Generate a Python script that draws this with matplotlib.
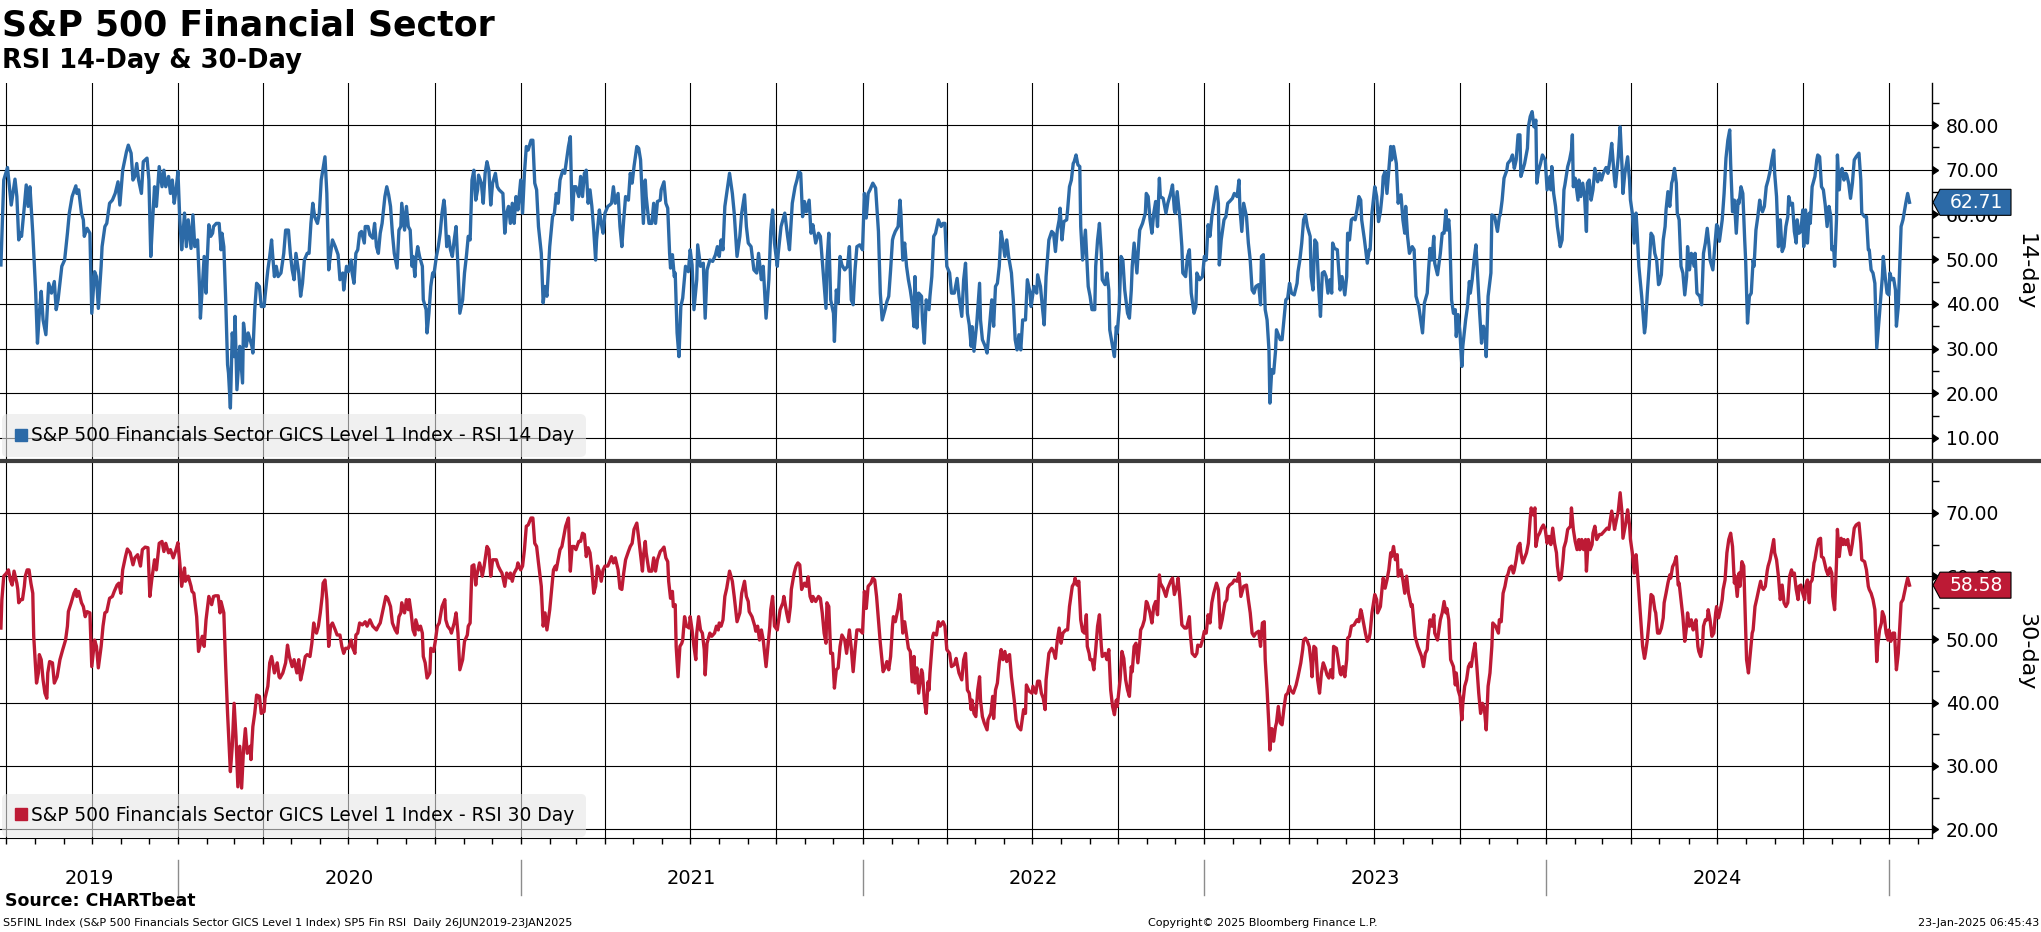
import pandas as pd
import numpy as np
import matplotlib
matplotlib.use('Agg')
import matplotlib.pyplot as plt
import matplotlib.dates as mdates
import matplotlib.transforms as mtransforms
from matplotlib.patches import Polygon
from matplotlib.lines import Line2D
from matplotlib.text import Text

plt.rcParams['font.family'] = ['DejaVu Sans']

# data: (days after 25-Jun-2019, RSI value)
start = pd.Timestamp('2019-06-25')
end_days = 2063

rsi14 = [
    (1, 48.7), (4, 67.7), (8, 70.5), (10, 66.2), (12, 62.1), (16, 67.9), (18, 64.0), (20, 54.3), (22, 55.8), (23, 55.1),
    (26, 61.8), (28, 66.6), (30, 61.8), (32, 66.2), (35, 55.8), (38, 43.1), (40, 31.2), (42, 37.9), (44, 42.8), (46, 36.4),
    (49, 33.1), (52, 44.6), (55, 42.4), (58, 45.0), (60, 38.7), (62, 40.9), (66, 48.4), (69, 49.8), (72, 55.8), (74, 60.3),
    (77, 64.0), (81, 66.4), (82, 64.7), (84, 65.5), (87, 60.3), (89, 58.8), (90, 55.1), (93, 56.9), (96, 55.8), (98, 37.9),
    (101, 47.2), (103, 46.1), (105, 39.0), (108, 48.4), (109, 52.8), (112, 57.3), (114, 58.0), (117, 62.5), (120, 63.2), (123, 64.7),
    (126, 67.3), (128, 62.1), (131, 69.9), (135, 74.0), (137, 75.5), (140, 73.7), (142, 67.7), (144, 68.5), (146, 71.4), (148, 67.7),
    (151, 64.7), (153, 71.8), (155, 72.2), (157, 72.6), (159, 67.7), (161, 50.6), (163, 58.8), (165, 66.2), (167, 61.8), (170, 70.7),
    (173, 66.2), (175, 69.9), (177, 66.2), (180, 68.5), (182, 64.7), (184, 67.7), (186, 62.5), (188, 65.5), (190, 69.6), (192, 58.8),
    (194, 52.1), (196, 57.3), (197, 60.3), (199, 52.8), (201, 58.8), (204, 52.4), (206, 59.9), (208, 52.8), (211, 54.3), (213, 43.9),
    (214, 36.8), (216, 43.9), (218, 50.6), (220, 42.4), (221, 48.4), (223, 57.7), (225, 55.1), (227, 55.8), (228, 57.3), (231, 58.0),
    (234, 58.0), (236, 52.1), (237, 55.8), (239, 52.8), (241, 40.9), (243, 26.4), (244, 24.5), (246, 16.7), (248, 33.5), (250, 28.2),
    (251, 37.2), (253, 20.8), (256, 30.5), (259, 22.3), (260, 35.7), (263, 30.5), (265, 33.5), (267, 32.0), (269, 30.5), (270, 29.0),
    (272, 38.7), (274, 44.6), (277, 43.9), (279, 39.4), (282, 39.4), (283, 41.7), (286, 47.6), (288, 50.6), (290, 54.3), (291, 51.3),
    (293, 46.1), (295, 48.4), (297, 46.1), (300, 46.9), (301, 48.4), (303, 51.3), (305, 56.5), (308, 56.5), (310, 51.3), (312, 47.6),
    (314, 45.4), (316, 51.3), (319, 46.9), (321, 41.7), (323, 44.6), (325, 49.8), (328, 51.3), (330, 51.3), (332, 58.0), (334, 62.5),
    (336, 59.5), (339, 58.0), (341, 60.3), (343, 67.7), (345, 70.3), (347, 72.9), (349, 64.7), (351, 47.6), (353, 51.3), (355, 54.3),
    (358, 52.8), (361, 51.0), (363, 45.4), (366, 46.9), (367, 43.1), (370, 48.4), (372, 47.2), (375, 49.8), (376, 46.9), (378, 44.6),
    (380, 51.3), (382, 52.1), (384, 55.8), (386, 56.2), (389, 53.6), (390, 57.3), (393, 57.3), (395, 55.4), (398, 54.7), (400, 58.0),
    (402, 52.8), (404, 51.3), (406, 55.8), (408, 58.0), (411, 64.0), (413, 66.2), (415, 64.4), (417, 61.8), (419, 55.8), (421, 51.3),
    (424, 48.0), (426, 56.5), (428, 57.3), (429, 62.5), (432, 56.5), (434, 61.8), (436, 57.3), (438, 56.5), (440, 48.4), (441, 50.6),
    (443, 46.1), (444, 49.8), (446, 52.8), (448, 50.6), (451, 48.4), (452, 40.9), (455, 38.7), (456, 33.5), (458, 37.9), (460, 43.9),
    (462, 46.9), (463, 46.1), (466, 50.6), (468, 52.8), (470, 55.8), (472, 60.3), (474, 63.2), (475, 61.4), (477, 52.8), (479, 55.1),
    (481, 52.1), (483, 50.6), (485, 54.3), (487, 57.3), (489, 48.4), (491, 37.9), (494, 40.9), (496, 46.9), (498, 50.6), (500, 55.1),
    (502, 54.3), (504, 67.7), (506, 69.9), (508, 63.2), (510, 65.5), (511, 68.8), (514, 67.0), (516, 62.5), (518, 69.2), (520, 71.8),
    (522, 69.9), (524, 62.1), (526, 67.0), (528, 68.5), (529, 69.2), (531, 66.2), (533, 65.5), (537, 64.7), (539, 55.8), (541, 60.3),
    (543, 61.8), (545, 58.0), (547, 62.5), (549, 58.0), (551, 64.0), (553, 61.0), (556, 67.7), (558, 60.3), (560, 69.2), (562, 75.2),
    (564, 74.4), (567, 76.6), (569, 76.6), (571, 67.0), (573, 65.5), (575, 57.3), (578, 51.3), (580, 40.2), (582, 43.9), (584, 41.7),
    (587, 52.8), (590, 59.5), (592, 60.3), (594, 64.7), (596, 62.5), (598, 67.7), (601, 69.9), (603, 69.2), (605, 72.2), (607, 75.2),
    (609, 77.4), (611, 58.8), (613, 66.2), (615, 66.2), (618, 64.0), (620, 68.5), (622, 64.0), (624, 69.2), (626, 69.9), (628, 62.5),
    (630, 65.5), (632, 61.8), (634, 56.5), (636, 49.8), (637, 54.3), (640, 61.0), (642, 58.0), (644, 55.8), (646, 60.3), (649, 61.8),
    (651, 62.1), (653, 62.5), (655, 66.2), (657, 62.5), (660, 64.7), (662, 57.3), (664, 52.8), (666, 58.8), (668, 64.0), (671, 63.2),
    (673, 69.2), (675, 67.0), (677, 70.7), (680, 75.2), (682, 74.8), (684, 72.2), (687, 58.0), (689, 67.7), (690, 64.0), (693, 58.0),
    (696, 58.0), (698, 62.5), (700, 58.0), (702, 62.9), (705, 63.2), (706, 65.5), (709, 67.3), (711, 62.5), (713, 61.4), (715, 51.3),
    (716, 48.0), (718, 51.0), (720, 46.1), (721, 46.9), (723, 33.5), (725, 28.2), (727, 39.4), (729, 41.3), (732, 48.4), (735, 47.2),
    (737, 52.1), (739, 48.7), (741, 38.7), (744, 45.4), (745, 53.2), (748, 48.4), (751, 49.1), (753, 36.8), (755, 47.6), (758, 49.8),
    (761, 49.5), (764, 51.0), (766, 52.8), (768, 50.6), (770, 54.3), (772, 52.1), (774, 61.8), (776, 64.7), (779, 69.2), (782, 64.7),
    (784, 60.3), (787, 50.6), (790, 55.1), (792, 60.3), (795, 64.4), (797, 57.3), (799, 53.6), (802, 52.8), (805, 47.6), (808, 46.9),
    (810, 51.3), (813, 45.4), (815, 48.4), (818, 36.8), (821, 45.4), (823, 56.2), (825, 61.0), (827, 53.6), (830, 48.4), (831, 51.3),
    (834, 57.3), (837, 59.5), (838, 60.3), (841, 55.1), (843, 52.1), (845, 58.8), (846, 62.5), (849, 66.2), (851, 67.7), (853, 69.6),
    (855, 69.2), (857, 59.5), (859, 62.9), (861, 60.6), (864, 63.2), (866, 55.8), (868, 57.7), (871, 53.6), (874, 55.8), (876, 55.1),
    (879, 46.9), (882, 39.0), (883, 49.1), (885, 55.8), (887, 40.9), (890, 37.9), (891, 31.6), (893, 43.1), (895, 40.2), (897, 50.6),
    (899, 48.7), (902, 47.6), (905, 48.4), (907, 52.8), (909, 40.9), (911, 39.8), (913, 47.6), (915, 52.8), (918, 53.2), (921, 52.1),
    (923, 64.7), (925, 59.2), (927, 64.7), (929, 65.5), (932, 67.0), (935, 65.9), (938, 56.2), (940, 42.4), (942, 36.4), (945, 38.7),
    (947, 40.5), (949, 41.7), (951, 47.6), (953, 54.3), (954, 55.1), (956, 56.2), (959, 57.3), (961, 63.2), (962, 60.3), (964, 49.8),
    (966, 53.6), (968, 48.4), (970, 45.4), (972, 43.1), (974, 40.2), (976, 34.9), (977, 46.1), (979, 34.6), (981, 42.4), (984, 41.7),
    (985, 36.4), (987, 31.2), (989, 40.9), (992, 38.7), (993, 41.7), (995, 46.1), (997, 55.1), (999, 55.8), (1002, 58.8), (1005, 57.3),
    (1007, 58.0), (1009, 58.0), (1011, 48.4), (1014, 46.9), (1016, 42.4), (1019, 42.4), (1022, 45.7), (1024, 41.7), (1027, 37.2), (1029, 45.4),
    (1031, 49.1), (1033, 37.9), (1035, 35.3), (1037, 30.5), (1038, 34.9), (1040, 29.4), (1043, 35.7), (1046, 44.6), (1047, 36.4), (1049, 32.0),
    (1052, 30.5), (1054, 29.0), (1056, 33.5), (1059, 40.9), (1061, 35.0), (1063, 43.9), (1065, 44.6), (1067, 48.4), (1069, 56.2), (1071, 53.6),
    (1073, 50.6), (1075, 54.3), (1077, 50.6), (1080, 46.9), (1082, 40.9), (1084, 32.0), (1086, 29.7), (1088, 33.1), (1090, 29.7), (1092, 36.4),
    (1095, 36.4), (1097, 45.4), (1100, 42.4), (1101, 39.4), (1104, 43.9), (1107, 42.4), (1108, 46.5), (1111, 43.9), (1113, 39.4), (1115, 35.3),
    (1117, 46.1), (1120, 54.3), (1123, 56.2), (1125, 55.8), (1127, 51.7), (1129, 56.5), (1131, 58.8), (1132, 61.4), (1134, 54.3), (1136, 58.4),
    (1139, 58.8), (1140, 61.0), (1142, 66.2), (1144, 67.7), (1146, 71.4), (1147, 71.8), (1149, 73.3), (1151, 71.1), (1153, 70.7), (1154, 57.3),
    (1156, 49.8), (1159, 56.5), (1162, 43.9), (1164, 41.7), (1166, 38.7), (1169, 38.7), (1170, 48.4), (1172, 54.3), (1174, 58.0), (1176, 51.3),
    (1177, 45.4), (1180, 44.3), (1182, 46.9), (1184, 43.1), (1185, 34.2), (1188, 30.5), (1190, 28.2), (1192, 34.9), (1193, 33.5), (1195, 38.7),
    (1197, 50.6), (1199, 49.8), (1201, 43.1), (1204, 37.9), (1206, 36.8), (1208, 43.1), (1209, 48.4), (1211, 53.6), (1214, 46.9), (1216, 53.6),
    (1217, 56.5), (1220, 58.0), (1223, 60.3), (1224, 64.7), (1226, 64.0), (1228, 58.8), (1230, 55.8), (1232, 60.3), (1234, 62.9), (1236, 57.3),
    (1238, 68.1), (1239, 64.0), (1242, 63.6), (1245, 60.3), (1247, 62.5), (1250, 64.7), (1252, 66.6), (1254, 61.0), (1255, 60.3), (1257, 65.1),
    (1260, 58.8), (1262, 52.8), (1263, 46.9), (1266, 46.1), (1268, 50.6), (1270, 52.1), (1272, 42.4), (1275, 37.9), (1277, 39.4), (1278, 46.9),
    (1281, 45.4), (1284, 46.1), (1286, 50.6), (1288, 49.8), (1290, 57.7), (1292, 55.1), (1294, 59.5), (1297, 63.6), (1299, 66.2), (1301, 62.5),
    (1302, 48.7), (1304, 54.3), (1307, 58.8), (1309, 59.5), (1311, 62.5), (1313, 62.9), (1316, 63.6), (1318, 64.7), (1321, 64.0), (1323, 67.7),
    (1324, 61.4), (1326, 56.2), (1328, 62.5), (1331, 59.5), (1333, 53.6), (1335, 49.8), (1337, 43.1), (1339, 42.4), (1341, 43.9), (1344, 44.3),
    (1346, 39.8), (1347, 50.6), (1349, 51.0), (1351, 38.7), (1353, 36.4), (1355, 29.7), (1356, 17.8), (1358, 25.3), (1360, 24.5), (1362, 29.4),
    (1363, 34.2), (1367, 32.0), (1369, 32.0), (1371, 36.4), (1373, 40.9), (1375, 41.3), (1377, 44.6), (1379, 42.4), (1382, 42.0), (1385, 44.6),
    (1386, 47.2), (1388, 49.8), (1390, 53.6), (1392, 58.8), (1394, 59.9), (1396, 57.3), (1399, 55.1), (1400, 46.1), (1402, 43.1), (1404, 54.3),
    (1406, 53.6), (1408, 43.9), (1410, 37.2), (1412, 46.9), (1414, 47.2), (1416, 46.1), (1418, 42.4), (1420, 45.4), (1422, 42.4), (1423, 53.6),
    (1425, 52.4), (1428, 52.1), (1431, 43.1), (1433, 46.1), (1436, 42.0), (1438, 46.1), (1439, 55.8), (1441, 54.3), (1443, 58.8), (1445, 59.2),
    (1447, 58.8), (1449, 61.0), (1451, 64.0), (1453, 63.2), (1454, 58.8), (1457, 54.3), (1460, 49.1), (1462, 52.1), (1463, 52.1), (1465, 60.3),
    (1468, 66.2), (1470, 64.0), (1472, 58.4), (1474, 60.6), (1476, 64.7), (1477, 68.5), (1479, 69.6), (1481, 64.7), (1483, 69.9), (1485, 75.2),
    (1486, 72.2), (1488, 75.2), (1491, 71.4), (1493, 62.5), (1494, 64.0), (1496, 64.4), (1498, 58.8), (1500, 55.8), (1501, 61.8), (1503, 55.1),
    (1505, 51.3), (1508, 52.8), (1510, 52.1), (1512, 41.7), (1515, 39.4), (1517, 36.4), (1519, 33.5), (1521, 40.2), (1524, 42.4), (1525, 46.1),
    (1527, 52.4), (1529, 49.8), (1531, 55.1), (1532, 49.1), (1535, 46.5), (1538, 51.3), (1540, 55.8), (1542, 55.8), (1544, 61.0), (1545, 56.5),
    (1547, 58.8), (1548, 55.8), (1550, 40.9), (1552, 37.9), (1554, 38.7), (1555, 32.7), (1557, 37.6), (1559, 33.5), (1561, 26.0), (1562, 30.5),
    (1565, 36.4), (1567, 39.4), (1569, 45.0), (1570, 42.4), (1572, 45.4), (1574, 49.8), (1576, 53.2), (1578, 45.4), (1580, 37.9), (1582, 31.2),
    (1584, 35.0), (1586, 32.7), (1587, 28.2), (1589, 41.7), (1592, 46.9), (1593, 59.9), (1596, 59.5), (1599, 56.2), (1601, 59.5), (1602, 59.9),
    (1604, 63.2), (1606, 68.1), (1609, 69.9), (1610, 71.4), (1613, 72.2), (1615, 73.3), (1617, 70.3), (1619, 72.2), (1621, 77.8), (1623, 77.8),
    (1624, 68.5), (1626, 69.9), (1628, 71.4), (1631, 74.8), (1632, 79.6), (1634, 81.9), (1636, 83.0), (1638, 79.6), (1640, 81.1), (1641, 67.0),
    (1643, 69.9), (1645, 71.4), (1647, 73.3), (1650, 72.2), (1652, 65.5), (1655, 68.5), (1656, 65.5), (1657, 70.7), (1659, 64.7), (1661, 61.8),
    (1663, 57.3), (1666, 52.8), (1668, 54.3), (1670, 65.5), (1671, 66.6), (1674, 70.7), (1676, 72.2), (1678, 74.4), (1679, 77.8), (1680, 66.2),
    (1682, 68.1), (1685, 63.2), (1686, 67.7), (1688, 64.0), (1690, 67.0), (1692, 64.0), (1694, 56.2), (1695, 67.0), (1697, 67.7), (1699, 63.2),
    (1701, 65.5), (1703, 70.3), (1706, 67.3), (1708, 69.2), (1710, 67.7), (1712, 69.2), (1715, 70.5), (1717, 69.2), (1719, 72.2), (1721, 75.9),
    (1724, 67.7), (1725, 66.2), (1728, 72.9), (1730, 79.6), (1732, 70.7), (1733, 64.7), (1735, 69.2), (1738, 72.9), (1740, 67.7), (1741, 63.2),
    (1743, 60.3), (1745, 53.6), (1747, 60.3), (1748, 56.9), (1750, 48.4), (1753, 41.7), (1756, 33.5), (1757, 35.0), (1759, 42.4), (1761, 48.4),
    (1763, 55.8), (1765, 55.1), (1767, 51.3), (1769, 49.8), (1771, 44.3), (1772, 44.6), (1774, 46.5), (1776, 54.3), (1778, 57.3), (1779, 61.0),
    (1781, 65.1), (1783, 61.8), (1785, 67.0), (1786, 67.7), (1788, 70.3), (1790, 67.0), (1791, 60.3), (1793, 58.8), (1795, 48.4), (1797, 46.9),
    (1799, 42.0), (1801, 46.1), (1802, 52.8), (1804, 47.6), (1806, 51.3), (1809, 48.4), (1810, 51.3), (1812, 42.4), (1815, 41.7), (1817, 39.8),
    (1819, 51.3), (1821, 53.6), (1823, 56.9), (1825, 52.8), (1826, 49.8), (1829, 47.6), (1831, 52.8), (1833, 57.7), (1834, 57.3), (1836, 54.0),
    (1839, 58.8), (1841, 64.7), (1843, 72.6), (1845, 76.6), (1847, 78.9), (1848, 71.4), (1850, 60.6), (1852, 63.2), (1854, 55.8), (1856, 63.2),
    (1857, 62.5), (1859, 66.2), (1861, 64.7), (1863, 54.3), (1864, 49.8), (1866, 35.7), (1868, 41.7), (1870, 42.4), (1872, 49.8), (1873, 48.4),
    (1875, 56.5), (1877, 59.5), (1879, 63.2), (1880, 61.8), (1882, 60.6), (1884, 61.8), (1886, 66.2), (1888, 67.7), (1890, 69.6), (1892, 72.2),
    (1894, 74.4), (1895, 69.2), (1897, 64.0), (1899, 52.8), (1901, 58.8), (1903, 51.7), (1905, 52.8), (1907, 57.3), (1909, 59.5), (1910, 64.0),
    (1912, 62.1), (1914, 62.5), (1916, 56.2), (1918, 53.6), (1919, 58.8), (1921, 55.8), (1923, 56.2), (1925, 61.0), (1926, 52.8), (1928, 61.0),
    (1930, 53.6), (1932, 60.3), (1933, 58.0), (1935, 66.2), (1938, 68.5), (1940, 72.2), (1941, 73.3), (1943, 72.9), (1945, 66.2), (1947, 65.5),
    (1949, 62.1), (1951, 57.3), (1953, 61.8), (1955, 59.5), (1956, 52.1), (1958, 52.8), (1959, 48.4), (1961, 58.8), (1962, 73.3), (1964, 65.5),
    (1965, 68.5), (1967, 70.3), (1969, 67.7), (1971, 69.2), (1972, 68.8), (1974, 67.0), (1976, 63.6), (1978, 67.0), (1980, 72.2), (1982, 72.9),
    (1985, 73.7), (1987, 67.7), (1988, 60.3), (1991, 59.5), (1993, 59.5), (1995, 52.1), (1996, 52.1), (1998, 47.6), (2000, 46.9), (2002, 44.6),
    (2004, 30.1), (2007, 37.9), (2010, 46.1), (2011, 50.6), (2013, 46.1), (2015, 42.4), (2017, 42.0), (2018, 46.9), (2020, 45.4), (2022, 45.7),
    (2024, 43.1), (2025, 35.0), (2027, 39.4), (2030, 57.3), (2032, 58.8), (2035, 62.5), (2037, 64.7), (2039, 62.71),
]

rsi30 = [
    (1, 51.8), (2, 56.3), (4, 60.0), (7, 60.5), (9, 61.0), (11, 59.4), (13, 58.6), (15, 60.8), (18, 58.9), (19, 57.9),
    (20, 55.8), (22, 56.3), (24, 56.3), (26, 58.4), (27, 60.0), (29, 61.0), (31, 61.0), (33, 58.9), (35, 57.3), (36, 50.5),
    (39, 43.1), (41, 44.7), (42, 47.6), (44, 46.8), (46, 43.6), (48, 41.5), (50, 40.7), (51, 44.7), (53, 46.5), (56, 46.3),
    (58, 43.1), (61, 44.1), (64, 46.8), (67, 48.4), (70, 49.9), (72, 52.1), (73, 54.4), (76, 55.8), (79, 57.3), (81, 57.9),
    (82, 56.8), (84, 57.6), (87, 55.8), (89, 55.2), (91, 53.6), (93, 54.4), (96, 54.2), (98, 45.7), (101, 49.9), (103, 48.9),
    (105, 45.5), (108, 48.9), (110, 52.1), (112, 54.2), (114, 54.4), (117, 56.5), (120, 56.8), (122, 57.6), (125, 58.6), (127, 58.9),
    (129, 57.3), (131, 61.0), (134, 63.1), (136, 64.3), (139, 63.7), (142, 61.8), (144, 62.9), (147, 63.4), (150, 61.6), (152, 64.2),
    (155, 64.6), (158, 64.5), (160, 56.8), (162, 59.4), (165, 62.6), (167, 61.0), (170, 65.2), (173, 65.5), (175, 63.9), (177, 65.2),
    (180, 63.7), (182, 64.2), (185, 62.9), (188, 64.2), (190, 65.3), (192, 62.1), (194, 58.4), (197, 61.3), (198, 59.2), (201, 60.0),
    (204, 58.4), (205, 57.6), (207, 57.3), (210, 53.6), (212, 48.1), (216, 50.5), (218, 48.9), (220, 53.1), (223, 56.8), (226, 55.5),
    (228, 56.8), (230, 56.9), (233, 56.9), (235, 54.2), (236, 56.0), (239, 54.2), (241, 45.7), (243, 38.3), (244, 35.2), (246, 29.1),
    (248, 33.1), (250, 39.9), (252, 34.6), (254, 26.7), (256, 33.1), (258, 26.5), (260, 32.5), (262, 35.9), (264, 32.0), (267, 33.1),
    (268, 31.0), (270, 36.2), (272, 38.3), (274, 41.2), (277, 41.0), (279, 38.3), (282, 38.6), (283, 40.7), (286, 42.6), (288, 46.3),
    (290, 47.3), (291, 46.5), (293, 44.7), (296, 46.3), (298, 44.1), (299, 43.9), (302, 44.7), (305, 46.3), (307, 49.1), (309, 47.3),
    (312, 45.7), (314, 46.8), (317, 44.7), (319, 46.8), (321, 43.6), (323, 44.9), (326, 47.3), (328, 47.6), (331, 47.3), (333, 49.4),
    (335, 52.6), (336, 51.5), (338, 51.0), (340, 52.1), (342, 54.2), (344, 56.8), (345, 58.9), (347, 59.4), (349, 56.3), (351, 48.9),
    (353, 52.1), (355, 52.6), (358, 51.5), (360, 50.7), (363, 50.7), (365, 48.9), (367, 47.8), (369, 48.6), (372, 48.6), (375, 49.9),
    (376, 48.9), (379, 47.8), (380, 50.7), (382, 51.0), (384, 52.6), (387, 52.3), (390, 52.8), (392, 52.1), (395, 53.1), (398, 52.1),
    (400, 51.8), (402, 51.5), (404, 52.1), (406, 52.6), (409, 54.7), (412, 56.8), (414, 56.5), (417, 55.2), (419, 52.6), (422, 51.5),
    (424, 51.0), (426, 53.6), (428, 54.2), (429, 55.8), (432, 54.2), (434, 56.3), (436, 54.7), (437, 56.3), (439, 54.2), (441, 51.5),
    (443, 50.7), (444, 53.1), (447, 51.5), (449, 52.1), (451, 51.0), (452, 47.3), (454, 46.3), (456, 43.9), (459, 44.7), (460, 48.6),
    (463, 48.1), (465, 49.9), (467, 52.1), (469, 52.6), (472, 55.2), (475, 56.3), (476, 53.1), (478, 52.1), (481, 51.5), (482, 51.0),
    (485, 52.6), (487, 54.2), (489, 51.0), (491, 45.2), (494, 46.8), (496, 49.7), (499, 50.7), (500, 52.1), (502, 52.6), (504, 61.6),
    (506, 61.8), (508, 58.6), (509, 60.0), (512, 62.1), (514, 61.0), (515, 60.0), (517, 61.6), (520, 64.7), (522, 64.2), (524, 60.0),
    (526, 62.6), (528, 62.6), (530, 62.6), (532, 61.6), (534, 61.0), (536, 60.5), (539, 58.4), (541, 60.5), (544, 59.7), (545, 60.5),
    (547, 59.2), (549, 60.5), (552, 61.3), (553, 62.1), (556, 61.0), (558, 61.6), (560, 64.2), (562, 67.9), (564, 68.1), (567, 69.2),
    (569, 69.2), (571, 65.2), (573, 64.7), (575, 62.1), (578, 58.4), (580, 52.1), (582, 54.2), (584, 51.5), (587, 54.7), (589, 57.9),
    (591, 61.0), (593, 61.6), (594, 61.0), (596, 62.6), (598, 64.2), (600, 64.7), (602, 66.3), (604, 67.9), (607, 69.2), (609, 60.8),
    (611, 64.7), (613, 64.7), (615, 64.2), (618, 65.5), (620, 65.5), (622, 66.8), (624, 66.6), (626, 63.1), (628, 64.5), (630, 63.7),
    (632, 61.0), (634, 57.3), (636, 58.4), (638, 61.6), (640, 60.8), (642, 59.2), (644, 61.0), (646, 61.6), (649, 61.6), (651, 62.3),
    (653, 63.1), (655, 62.1), (657, 62.9), (660, 61.0), (662, 58.1), (664, 57.9), (666, 60.5), (668, 62.6), (671, 63.9), (673, 64.7),
    (675, 65.2), (677, 67.4), (680, 68.4), (682, 66.0), (686, 60.8), (687, 63.1), (689, 65.5), (690, 63.7), (693, 60.8), (696, 60.8),
    (698, 62.9), (700, 60.8), (702, 62.6), (705, 63.9), (707, 64.2), (709, 64.6), (711, 62.9), (713, 62.3), (714, 59.2), (716, 56.5),
    (718, 57.6), (719, 55.2), (721, 55.5), (722, 48.9), (724, 44.1), (726, 48.9), (728, 49.4), (729, 49.9), (731, 53.6), (733, 52.1),
    (736, 51.8), (737, 53.6), (739, 51.5), (741, 48.9), (743, 46.8), (744, 51.0), (746, 53.6), (748, 51.5), (750, 51.0), (752, 48.4),
    (753, 44.4), (755, 49.4), (758, 51.0), (760, 50.5), (763, 51.0), (765, 52.1), (767, 51.5), (768, 52.6), (770, 52.1), (772, 53.1),
    (774, 56.8), (776, 58.1), (779, 60.8), (782, 59.2), (784, 56.8), (787, 52.8), (790, 54.2), (792, 57.3), (795, 59.2), (797, 56.8),
    (799, 56.0), (800, 54.4), (803, 53.6), (806, 52.1), (807, 51.3), (809, 52.1), (811, 49.9), (813, 51.5), (815, 49.9), (818, 45.7),
    (820, 48.9), (822, 52.1), (823, 54.7), (825, 56.8), (827, 52.1), (830, 51.5), (831, 52.6), (833, 54.7), (836, 55.8), (837, 56.8),
    (840, 54.2), (842, 52.8), (844, 55.2), (845, 57.9), (848, 60.5), (850, 61.6), (852, 62.1), (854, 61.8), (856, 57.9), (859, 58.9),
    (861, 58.4), (863, 59.9), (865, 56.8), (867, 56.0), (868, 56.8), (871, 56.0), (874, 56.8), (876, 56.5), (878, 54.2), (880, 51.0),
    (882, 49.4), (883, 55.8), (885, 55.2), (887, 47.8), (889, 47.8), (891, 42.3), (893, 45.2), (895, 45.5), (897, 48.9), (899, 50.7),
    (902, 49.9), (904, 47.8), (907, 51.5), (909, 48.6), (911, 44.9), (913, 48.4), (915, 51.5), (918, 51.5), (921, 51.0), (923, 57.6),
    (925, 54.9), (927, 58.4), (930, 58.9), (932, 59.7), (934, 59.4), (936, 56.8), (938, 53.1), (940, 49.4), (943, 44.9), (945, 45.5),
    (947, 46.5), (949, 45.2), (951, 47.3), (953, 52.1), (954, 53.6), (956, 52.8), (959, 54.9), (961, 57.1), (962, 55.8), (964, 51.0),
    (966, 52.8), (968, 50.7), (970, 48.6), (972, 48.1), (974, 43.3), (976, 47.3), (977, 43.1), (979, 45.5), (981, 41.5), (984, 45.2),
    (985, 44.7), (987, 40.4), (989, 38.3), (991, 43.3), (992, 42.0), (993, 44.7), (996, 50.5), (997, 51.0), (1000, 50.7), (1002, 52.8),
    (1004, 52.1), (1007, 52.8), (1009, 52.1), (1011, 48.4), (1014, 47.8), (1016, 45.7), (1019, 46.0), (1021, 47.0), (1022, 46.2), (1024, 44.7),
    (1027, 43.6), (1029, 46.8), (1031, 47.8), (1033, 42.0), (1035, 41.5), (1037, 38.9), (1038, 40.4), (1040, 38.3), (1042, 37.8), (1044, 42.0),
    (1046, 44.1), (1047, 40.4), (1049, 37.8), (1051, 36.8), (1054, 35.7), (1055, 37.3), (1058, 38.3), (1060, 41.0), (1061, 37.5), (1063, 42.0),
    (1065, 43.1), (1067, 46.3), (1069, 48.4), (1071, 46.8), (1073, 48.1), (1075, 46.5), (1076, 47.3), (1078, 47.6), (1080, 44.1), (1083, 40.4),
    (1085, 37.3), (1087, 36.2), (1090, 35.7), (1092, 37.8), (1093, 38.9), (1095, 38.3), (1096, 42.8), (1099, 41.8), (1102, 41.5), (1103, 42.6),
    (1106, 41.5), (1108, 43.4), (1110, 43.4), (1112, 41.5), (1114, 40.7), (1116, 38.9), (1117, 43.6), (1120, 47.8), (1123, 48.6), (1125, 48.1),
    (1127, 47.0), (1129, 49.9), (1131, 51.8), (1133, 49.4), (1135, 51.0), (1138, 51.5), (1140, 51.5), (1142, 55.2), (1145, 58.4), (1147, 58.9),
    (1148, 59.7), (1150, 58.6), (1152, 59.2), (1154, 53.1), (1156, 51.3), (1158, 51.0), (1160, 53.9), (1161, 48.9), (1163, 47.8), (1164, 46.8),
    (1166, 46.8), (1168, 45.2), (1170, 48.4), (1172, 52.1), (1174, 53.9), (1176, 48.9), (1177, 47.3), (1180, 47.8), (1182, 46.8), (1184, 48.4),
    (1186, 42.0), (1188, 39.4), (1190, 38.1), (1192, 40.4), (1193, 39.4), (1196, 43.6), (1198, 48.1), (1200, 47.0), (1202, 43.6), (1204, 42.0),
    (1206, 41.0), (1208, 45.7), (1209, 44.9), (1211, 48.9), (1213, 49.4), (1215, 46.3), (1217, 49.4), (1218, 51.5), (1220, 52.1), (1222, 53.1),
    (1224, 56.0), (1225, 55.8), (1228, 54.2), (1230, 52.6), (1232, 55.2), (1234, 56.0), (1236, 53.9), (1238, 60.2), (1239, 58.9), (1242, 58.1),
    (1245, 56.8), (1247, 58.1), (1250, 59.2), (1252, 59.7), (1254, 57.1), (1257, 58.6), (1258, 59.7), (1260, 56.3), (1262, 52.3), (1265, 51.8),
    (1267, 51.8), (1270, 53.6), (1271, 51.0), (1273, 47.8), (1276, 47.3), (1278, 47.8), (1279, 49.1), (1282, 48.9), (1284, 49.9), (1286, 51.3),
    (1288, 51.0), (1290, 53.9), (1292, 52.6), (1294, 55.8), (1296, 57.3), (1299, 58.9), (1301, 57.9), (1303, 51.8), (1305, 53.1), (1308, 55.8),
    (1310, 56.3), (1311, 58.1), (1313, 58.6), (1316, 58.9), (1318, 59.4), (1321, 59.2), (1323, 60.5), (1325, 56.8), (1328, 58.4), (1331, 58.6),
    (1333, 56.3), (1335, 54.2), (1337, 51.0), (1339, 50.5), (1341, 51.0), (1344, 51.3), (1346, 48.9), (1348, 52.6), (1350, 52.8), (1351, 46.8),
    (1353, 42.0), (1355, 36.2), (1356, 32.5), (1358, 35.9), (1360, 33.9), (1362, 36.2), (1363, 36.8), (1365, 39.4), (1367, 36.8), (1369, 36.5),
    (1371, 39.1), (1373, 41.2), (1375, 41.5), (1377, 42.6), (1378, 42.0), (1381, 41.5), (1384, 42.8), (1386, 44.1), (1389, 46.3), (1391, 48.4),
    (1392, 49.9), (1394, 50.2), (1396, 49.7), (1398, 48.9), (1400, 46.3), (1401, 44.1), (1403, 48.9), (1405, 48.6), (1407, 43.6), (1409, 41.5),
    (1411, 44.7), (1413, 46.3), (1415, 45.5), (1417, 44.4), (1419, 43.9), (1421, 45.2), (1423, 43.9), (1424, 48.9), (1427, 48.6), (1429, 46.8),
    (1431, 44.7), (1432, 44.4), (1434, 45.7), (1436, 44.1), (1438, 46.8), (1439, 50.2), (1441, 50.5), (1443, 52.1), (1446, 52.3), (1447, 52.6),
    (1449, 53.1), (1451, 52.8), (1453, 54.7), (1454, 54.2), (1456, 52.6), (1458, 51.0), (1460, 49.7), (1462, 50.2), (1463, 51.0), (1465, 54.2),
    (1468, 57.1), (1470, 56.3), (1471, 54.2), (1474, 55.2), (1476, 58.4), (1477, 59.7), (1479, 58.1), (1481, 59.4), (1483, 61.0), (1485, 63.7),
    (1486, 63.1), (1488, 64.7), (1490, 62.6), (1492, 63.4), (1493, 60.0), (1496, 61.0), (1498, 59.4), (1500, 57.3), (1502, 60.0), (1504, 57.3),
    (1507, 55.2), (1508, 55.5), (1511, 50.5), (1514, 48.9), (1516, 48.1), (1518, 47.3), (1520, 45.7), (1522, 47.8), (1524, 48.4), (1525, 50.5),
    (1527, 53.1), (1529, 52.1), (1531, 53.9), (1532, 51.0), (1535, 49.9), (1538, 53.1), (1540, 54.2), (1542, 56.0), (1544, 54.2), (1545, 54.9),
    (1547, 53.1), (1549, 46.8), (1552, 45.7), (1554, 42.8), (1555, 44.7), (1557, 42.0), (1559, 41.0), (1561, 37.3), (1562, 39.9), (1564, 42.6),
    (1566, 43.6), (1568, 45.7), (1570, 46.3), (1571, 45.7), (1573, 47.8), (1575, 49.4), (1577, 45.7), (1579, 41.5), (1581, 38.3), (1583, 39.9),
    (1585, 39.1), (1587, 35.7), (1589, 42.6), (1591, 44.7), (1593, 48.9), (1594, 52.6), (1597, 52.1), (1600, 51.0), (1601, 53.1), (1603, 52.8),
    (1605, 57.3), (1607, 58.4), (1609, 60.0), (1610, 60.2), (1612, 61.3), (1614, 61.6), (1616, 60.5), (1617, 61.0), (1619, 62.6), (1621, 64.7),
    (1623, 65.2), (1624, 63.7), (1626, 62.1), (1628, 62.9), (1630, 63.7), (1632, 65.2), (1634, 69.2), (1635, 70.8), (1637, 69.7), (1639, 70.8),
    (1640, 64.7), (1642, 66.3), (1644, 66.8), (1646, 67.6), (1648, 68.1), (1650, 67.4), (1652, 65.2), (1654, 66.3), (1656, 65.0), (1658, 67.6),
    (1660, 65.2), (1662, 63.7), (1663, 61.6), (1665, 59.4), (1667, 59.7), (1669, 62.6), (1670, 64.5), (1672, 65.5), (1674, 67.4), (1677, 67.9),
    (1678, 70.8), (1680, 67.4), (1682, 65.5), (1684, 64.2), (1686, 65.8), (1687, 64.2), (1689, 65.8), (1691, 64.2), (1693, 65.8), (1694, 60.8),
    (1696, 65.8), (1698, 64.2), (1700, 65.0), (1701, 66.8), (1703, 67.9), (1705, 65.8), (1708, 66.6), (1710, 66.6), (1713, 67.1), (1716, 67.6),
    (1718, 67.4), (1721, 70.3), (1723, 68.7), (1724, 67.4), (1726, 68.9), (1728, 70.3), (1730, 73.2), (1732, 70.0), (1733, 66.0), (1736, 68.4),
    (1738, 70.5), (1740, 68.1), (1741, 65.8), (1743, 63.7), (1745, 60.5), (1747, 63.4), (1748, 61.6), (1750, 57.3), (1752, 53.1), (1754, 48.9),
    (1756, 47.0), (1757, 47.8), (1759, 49.9), (1761, 53.1), (1763, 57.1), (1765, 56.8), (1767, 54.7), (1768, 54.2), (1770, 51.0), (1772, 51.0),
    (1774, 51.8), (1776, 53.4), (1777, 55.8), (1779, 57.3), (1781, 58.9), (1783, 60.2), (1784, 59.7), (1786, 61.5), (1788, 62.1), (1790, 63.1),
    (1792, 58.6), (1793, 58.9), (1795, 56.3), (1797, 53.6), (1799, 49.7), (1801, 52.1), (1802, 54.2), (1804, 52.1), (1806, 53.1), (1808, 51.5),
    (1809, 52.1), (1811, 53.1), (1813, 48.9), (1814, 48.1), (1816, 47.3), (1818, 49.4), (1819, 52.1), (1821, 53.1), (1823, 53.1), (1824, 54.7),
    (1826, 53.1), (1828, 50.5), (1830, 51.0), (1832, 54.2), (1833, 55.2), (1835, 53.4), (1837, 54.7), (1839, 56.3), (1840, 57.9), (1842, 59.4),
    (1844, 63.7), (1846, 65.8), (1848, 66.8), (1850, 64.7), (1852, 58.9), (1853, 60.0), (1855, 56.8), (1857, 60.5), (1858, 58.4), (1860, 62.3),
    (1862, 61.6), (1864, 52.1), (1865, 46.8), (1867, 44.7), (1869, 47.8), (1871, 51.0), (1872, 51.5), (1874, 55.2), (1876, 56.5), (1878, 57.9),
    (1880, 59.2), (1881, 58.4), (1883, 57.9), (1885, 58.4), (1887, 60.8), (1888, 61.6), (1890, 62.6), (1892, 64.2), (1894, 65.8), (1895, 63.7),
    (1897, 62.6), (1899, 60.0), (1901, 56.3), (1903, 58.6), (1905, 55.8), (1907, 55.2), (1909, 55.8), (1911, 60.0), (1913, 61.0), (1914, 60.2),
    (1916, 60.5), (1918, 57.9), (1920, 56.3), (1921, 58.4), (1923, 58.6), (1925, 57.3), (1927, 56.3), (1928, 58.4), (1930, 59.4), (1932, 55.8),
    (1933, 58.9), (1935, 59.4), (1937, 62.1), (1938, 62.6), (1940, 64.5), (1942, 65.8), (1944, 66.0), (1945, 63.1), (1947, 62.9), (1948, 62.3),
    (1950, 61.0), (1952, 60.2), (1954, 61.3), (1956, 60.5), (1957, 56.8), (1959, 54.7), (1961, 62.1), (1962, 67.4), (1964, 63.1), (1966, 66.0),
    (1968, 65.0), (1969, 65.8), (1971, 65.0), (1973, 65.8), (1974, 64.7), (1976, 63.4), (1978, 65.2), (1980, 67.6), (1982, 68.1), (1985, 68.4),
    (1987, 65.2), (1988, 62.6), (1991, 62.3), (1993, 61.0), (1995, 58.4), (1996, 57.9), (1998, 57.3), (2000, 56.3), (2002, 54.7), (2004, 46.5),
    (2005, 48.9), (2007, 51.5), (2009, 52.6), (2010, 54.4), (2012, 53.6), (2014, 51.0), (2016, 49.9), (2017, 51.5), (2019, 49.7), (2021, 51.0),
    (2023, 51.0), (2025, 45.2), (2027, 47.8), (2030, 55.8), (2032, 56.3), (2035, 58.4), (2037, 59.7), (2039, 58.58),
]

years = ['2019', '2020', '2021', '2022', '2023', '2024']
label14 = 'S&P 500 Financials Sector GICS Level 1 Index - RSI 14 Day'
label30 = 'S&P 500 Financials Sector GICS Level 1 Index - RSI 30 Day'
blue = '#2c6aa7'
red = '#bd1a35'

W, H = 2041, 932
fig = plt.figure(figsize=(W / 100, H / 100), dpi=100)
ax1 = fig.add_axes([0, 1 - 459 / H, 1932 / W, (459 - 83) / H])
ax2 = fig.add_axes([0, 1 - 838 / H, 1932 / W, (838 - 463) / H], sharex=ax1)

x_end = start + pd.Timedelta(days=end_days)


def to_dates(pairs):
    d = [start + pd.Timedelta(days=p[0]) for p in pairs]
    v = [p[1] for p in pairs]
    return d, v


def style_panel(ax, ylim, major, minor, ylabel, label_y):
    ax.set_ylim(*ylim)
    ax.set_yticks(major)
    ax.set_yticks(minor, minor=True)
    ax.set_yticklabels([f'{t:.2f}' for t in major])
    ax.yaxis.tick_right()
    ax.tick_params(axis='y', which='major', length=0, pad=10, labelsize=13.5)
    ax.tick_params(axis='y', which='minor', length=5, width=1, direction='out', color='black')
    ax.grid(True, which='major', color='black', lw=0.8)
    ax.set_axisbelow(True)
    for s in ['left', 'top']:
        ax.spines[s].set_visible(False)
    ax.spines['right'].set_color('black')
    ax.spines['right'].set_linewidth(1)
    tr = mtransforms.blended_transform_factory(ax.transAxes, ax.transData)
    ax.plot(np.ones(len(major)), major, ls='none', marker=9, ms=6, color='black',
            transform=tr, clip_on=False)
    fig.text(2026 / W, 1 - label_y / H, ylabel, rotation=270, ha='center', va='center', fontsize=16)


def value_tag(ax, value, color):
    # pointer box at the right axis, sized in inches from the tip
    anchor = mtransforms.blended_transform_factory(ax.transAxes, ax.transData)
    tr = fig.dpi_scale_trans + mtransforms.ScaledTranslation(1, value, anchor)
    verts = [(0.01, 0), (0.08, 0.13), (0.79, 0.13), (0.79, -0.13), (0.08, -0.13)]
    fig.add_artist(Polygon(verts, closed=True, transform=tr, facecolor=color,
                           edgecolor='black', lw=0.8, zorder=5))
    fig.add_artist(Text(0.44, -0.005, f'{value:.2f}', transform=tr, ha='center', va='center',
                        color='white', fontsize=13.5, zorder=6))


d14, v14 = to_dates(rsi14)
d30, v30 = to_dates(rsi30)
ax1.plot(d14, v14, color=blue, lw=2.4, solid_joinstyle='round')
ax2.plot(d30, v30, color=red, lw=2.4, solid_joinstyle='round')

style_panel(ax1, (5.3, 89.4), list(range(10, 90, 10)), list(range(15, 90, 10)), '14-day', 272)
style_panel(ax2, (18.6, 77.9), list(range(20, 80, 10)), list(range(25, 80, 10)), '30-day', 652)

ax1.set_xlim(start, x_end)
ax1.xaxis.set_major_locator(mdates.MonthLocator(bymonth=[1, 4, 7, 10]))
ax1.xaxis.set_minor_locator(mdates.MonthLocator())
ax1.tick_params(axis='x', which='both', length=0, labelbottom=False)
ax1.spines['bottom'].set_visible(False)
ax2.tick_params(axis='x', which='both', length=4, width=1, direction='out', color='black',
                labelbottom=False)
ax2.spines['bottom'].set_color('black')

value_tag(ax1, v14[-1], blue)
value_tag(ax2, v30[-1], red)

# legends
for ax, lab, col, y0 in [(ax1, label14, blue, 0.005), (ax2, label30, red, 0.003)]:
    h = Line2D([], [], ls='none', marker='s', ms=8.5, color=col)
    leg = ax.legend([h], [lab], loc='lower left', bbox_to_anchor=(0.001, y0), borderaxespad=0,
                    fontsize=13.4, frameon=True, fancybox=True, facecolor='#e6e6e6',
                    edgecolor='none', framealpha=0.6, handlelength=0.7, handletextpad=0.2,
                    borderpad=0.65)
    leg.get_frame().set_boxstyle('round', pad=0, rounding_size=0.3)

# year labels and separators under the bottom panel
bt = mtransforms.blended_transform_factory(ax2.transData, ax2.transAxes)
for y in years:
    lo = max(start, pd.Timestamp(f'{y}-01-01'))
    hi = min(x_end, pd.Timestamp(f'{int(y) + 1}-01-01'))
    ax2.text(lo + (hi - lo) / 2, -0.109, y, transform=bt, ha='center', va='center', fontsize=14)
    sep = pd.Timestamp(f'{int(y) + 1}-01-01')
    ax2.plot([sep, sep], [-0.059, -0.152], transform=bt, color='#8c8c8c', lw=1, clip_on=False)

# panel separator
fig.add_artist(Line2D([0, 1], [1 - 461 / H] * 2, transform=fig.transFigure, color='#3d3d3d', lw=3))

fig.text(2 / W, 1 - 36 / H, 'S&P 500 Financial Sector', fontsize=25, weight='bold', va='baseline')
fig.text(2 / W, 1 - 68 / H, 'RSI 14-Day & 30-Day', fontsize=18.5, weight='bold', va='baseline')
fig.text(5 / W, 1 - 901 / H, 'Source: CHARTbeat', fontsize=12.5, weight='bold', va='center')
fig.text(3 / W, 1 - 923 / H,
         'S5FINL Index (S&P 500 Financials Sector GICS Level 1 Index) SP5 Fin RSI  Daily 26JUN2019-23JAN2025',
         fontsize=8, va='center')
fig.text(1263 / W, 1 - 923 / H, 'Copyright\u00a9 2025 Bloomberg Finance L.P.', fontsize=8, ha='center', va='center')
fig.text(2039 / W, 1 - 923 / H, '23-Jan-2025 06:45:43', fontsize=8, ha='right', va='center')

fig.savefig('out.png', dpi=100)
